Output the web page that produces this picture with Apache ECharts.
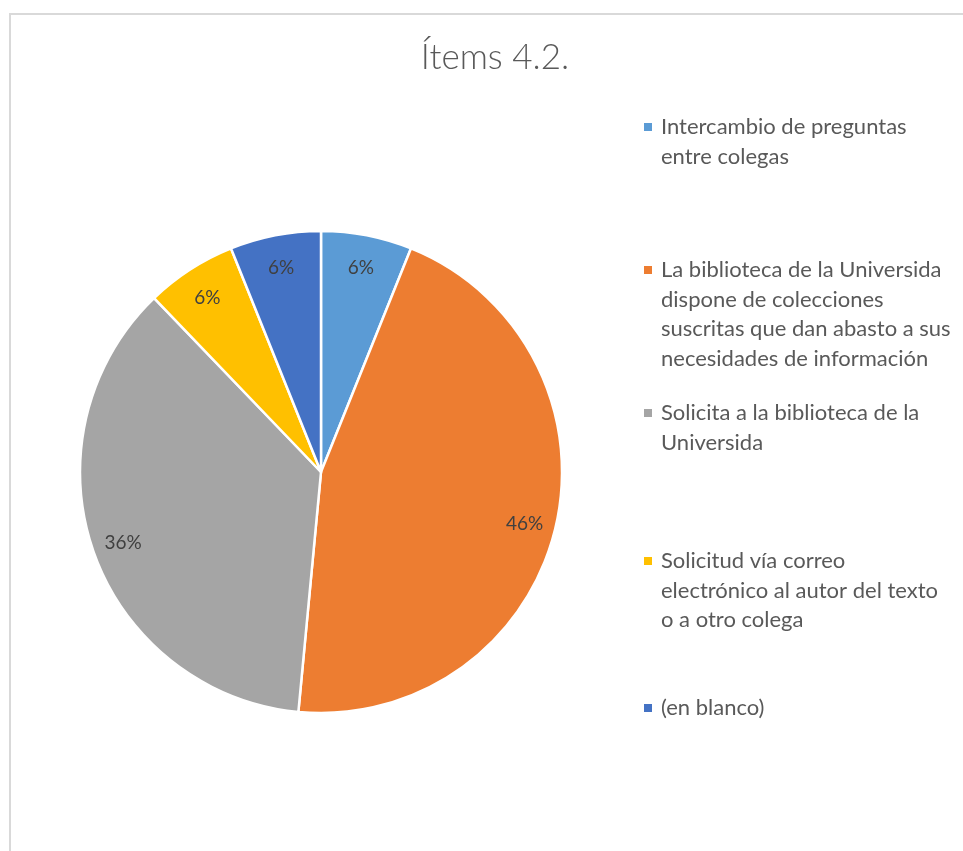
<!DOCTYPE html>
<html lang="es">
<head>
    <meta charset="UTF-8">
    <title>Ítems 4.2.</title>
    <script src="https://cdn.jsdelivr.net/npm/echarts@6/dist/echarts.min.js"></script>
</head>
<body style="margin:0;background:#fff;">
<div id="myChart" style="width: 963px;height: 851px;"></div>
<script>
    var categories = [
        'Intercambio de preguntas\nentre colegas',
        'La biblioteca de la Universida\ndispone de colecciones\nsuscritas que dan abasto a sus\nnecesidades de información',
        'Solicita a la biblioteca de la\nUniversida',
        'Solicitud vía correo\nelectrónico al autor del texto\no a otro colega',
        '(en blanco)'
    ];
    // shares (%); labels show them rounded
    var percents = [6.1, 45.5, 36.4, 6.1, 6.1];
    var colors = ['#5B9BD5', '#ED7D31', '#A5A5A5', '#FFC000', '#4472C4'];
    // centre of the first line of each legend entry
    var legendLineY = [127, 270, 413, 561, 708];

    var font = 'Lato, "Open Sans", sans-serif';
    var LH = 29.5;
    var myChart = echarts.init(document.getElementById('myChart'));

    var pieData = [];
    var ringData = [];
    for (var i = 0; i < categories.length; i++) {
        pieData.push({name: categories[i], value: percents[i], itemStyle: {color: colors[i]}});
        ringData.push({name: categories[i], value: percents[i]});
    }

    // one legend per item; blank lines in front keep the marker on the first line
    var legends = [];
    for (var j = 0; j < categories.length; j++) {
        var n = categories[j].split('\n').length;
        legends.push({
            data: [categories[j]],
            left: 642,
            top: legendLineY[j] - (2 * n - 1) * LH / 2,
            orient: 'vertical',
            icon: 'rect',
            itemWidth: 10,
            itemHeight: 10,
            padding: 0,
            selectedMode: false,
            formatter: (function (k) {
                return function (name) { return new Array(k).join('\n') + name; };
            })(n),
            textStyle: {
                fontFamily: font,
                fontSize: 22,
                color: '#595959',
                lineHeight: LH,
                padding: [0, 0, 0, 3]
            }
        });
    }

    var option = {
        backgroundColor: '#fff',
        animation: false,
        title: {
            text: 'Ítems 4.2.',
            left: 490,
            top: 35,
            textAlign: 'center',
            textStyle: {
                fontFamily: font,
                fontWeight: 300,
                fontSize: 35,
                color: '#595959'
            }
        },
        graphic: [{
            type: 'rect',
            shape: {x: 10, y: 14, width: 1000, height: 900},
            style: {fill: 'none', stroke: '#d9d9d9', lineWidth: 2},
            silent: true
        }],
        legend: legends,
        series: [
            {
                type: 'pie',
                center: [321, 472],
                radius: 241,
                startAngle: 90,
                clockwise: true,
                data: pieData,
                itemStyle: {borderColor: '#fff', borderWidth: 2.5},
                label: {show: false},
                labelLine: {show: false}
            },
            {
                // transparent ring only to place the % labels near the rim
                type: 'pie',
                center: [321, 474],
                radius: [172, 241],
                startAngle: 90,
                clockwise: true,
                silent: true,
                data: ringData,
                itemStyle: {color: 'rgba(0,0,0,0)', borderWidth: 0},
                label: {
                    show: true,
                    position: 'inside',
                    formatter: function (p) { return Math.round(p.value) + '%'; },
                    fontFamily: font,
                    fontSize: 19,
                    color: '#404040'
                },
                labelLine: {show: false}
            }
        ]
    };
    myChart.setOption(option);
</script>
</body>
</html>
